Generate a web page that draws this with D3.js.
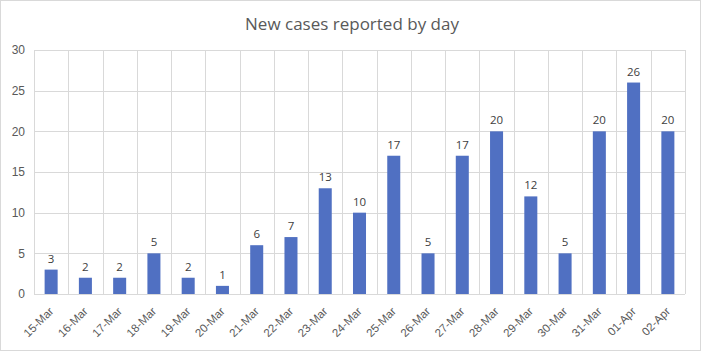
<!DOCTYPE html>
<html>
<head>
<meta charset="utf-8">
<script src="https://cdn.jsdelivr.net/npm/d3@7"></script>
<style>
body { margin: 0; background: #fff; }
svg { display: block; font-family: "Open Sans", "Liberation Sans", sans-serif; }
.grid line { stroke: #d9d9d9; stroke-width: 1; }
.axis text { fill: #595959; font-size: 11.5px; }
.label { fill: #404040; font-size: 11.5px; }
</style>
</head>
<body>
<svg id="chart" width="701" height="351"></svg>
<script>
var days = ["15-Mar","16-Mar","17-Mar","18-Mar","19-Mar","20-Mar","21-Mar","22-Mar","23-Mar","24-Mar",
            "25-Mar","26-Mar","27-Mar","28-Mar","29-Mar","30-Mar","31-Mar","01-Apr","02-Apr"];
var cases = [3, 2, 2, 5, 2, 1, 6, 7, 13, 10, 17, 5, 17, 20, 12, 5, 20, 26, 20];
var yTicks = [0, 5, 10, 15, 20, 25, 30];

var svg = d3.select("#chart"),
    margin = {top: 50, right: 16, bottom: 57, left: 34},
    width = +svg.attr("width") - margin.left - margin.right,
    height = +svg.attr("height") - margin.top - margin.bottom;

// outer chart border
svg.append("rect")
    .attr("x", 0.5).attr("y", 0.5)
    .attr("width", 700).attr("height", 350)
    .attr("fill", "none").attr("stroke", "#d9d9d9");

svg.append("text")
    .attr("x", 352).attr("y", 30)
    .attr("text-anchor", "middle")
    .attr("fill", "#595959")
    .style("font-size", "17px")
    .text("New cases reported by day");

var g = svg.append("g").attr("transform", "translate(" + margin.left + "," + margin.top + ")");

var x = d3.scaleBand().domain(days).range([0, width]).paddingInner(0.62).paddingOuter(0.31);
var y = d3.scaleLinear().domain([0, 30]).range([height, 0]);

// horizontal grid
g.append("g").attr("class", "grid")
  .selectAll("line").data(yTicks).enter().append("line")
    .attr("x1", 0).attr("x2", width)
    .attr("y1", function(d){ return Math.round(y(d)) + 0.5; })
    .attr("y2", function(d){ return Math.round(y(d)) + 0.5; });

// vertical grid at category boundaries
var bounds = d3.range(days.length + 1);
g.append("g").attr("class", "grid")
  .selectAll("line").data(bounds).enter().append("line")
    .attr("x1", function(i){ return Math.round(i * width / days.length) + 0.5; })
    .attr("x2", function(i){ return Math.round(i * width / days.length) + 0.5; })
    .attr("y1", 0).attr("y2", height);

// y axis labels
var yAxis = d3.axisLeft(y).tickValues(yTicks).tickSize(0).tickPadding(9);
g.append("g").attr("class", "axis")
    .call(yAxis)
    .call(function(s){ s.select(".domain").remove(); })
    .selectAll("text").style("font-size", "12px");

// x axis labels
var xAxis = d3.axisBottom(x).tickSize(0).tickPadding(0);
g.append("g").attr("class", "axis")
    .attr("transform", "translate(0," + height + ")")
    .call(xAxis)
    .call(function(s){ s.select(".domain").remove(); })
  .selectAll("text")
    .style("text-anchor", "end")
    .attr("dx", 0).attr("dy", 0)
    .attr("transform", "translate(3,18) rotate(-45)");

// bars
g.selectAll(".bar").data(cases).enter().append("rect")
    .attr("class", "bar")
    .attr("x", function(d, i){ return x(days[i]); })
    .attr("width", x.bandwidth())
    .attr("y", function(d){ return y(d); })
    .attr("height", function(d){ return height - y(d); })
    .attr("fill", "#5070c2");

// data labels
g.selectAll(".label").data(cases).enter().append("text")
    .attr("class", "label")
    .attr("x", function(d, i){ return x(days[i]) + x.bandwidth() / 2; })
    .attr("y", function(d){ return y(d) - 7; })
    .attr("text-anchor", "middle")
    .text(function(d){ return d; });
</script>
</body>
</html>
